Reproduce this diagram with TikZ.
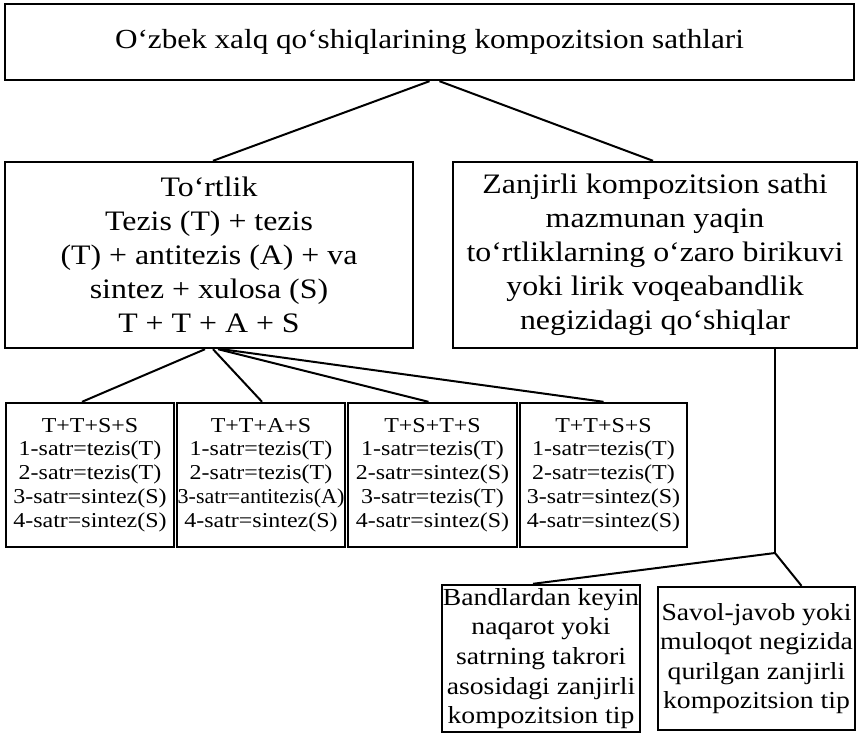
\documentclass[tikz,border=0pt]{standalone}
\usepackage{fontspec}
\setmainfont{Liberation Serif}[FakeStretch=1.13]
\usepackage{graphicx}
\begin{document}
\begin{tikzpicture}[x=1pt,y=-1pt,
  box/.style={draw, line width=2.4pt, inner sep=0pt, align=center, anchor=center},
  link/.style={line width=2pt},
  titletxt/.style={font=\fontsize{27.6}{32}\selectfont},
  bigtxt/.style={font=\fontsize{28.2}{34}\selectfont},
  smalltxt/.style={font=\fontsize{21.2}{23.8}\selectfont},
  midtxt/.style={font=\fontsize{24.5}{29.6}\selectfont}]
\useasboundingbox (0,0) rectangle (861,734);
\fill[white] (0,0) rectangle (861,734);

\node[box, titletxt, minimum width=849pt, minimum height=76pt] (top) at (429.5,42)
  {O‘zbek xalq qo‘shiqlarining kompozitsion sathlari};

\node[box, bigtxt, minimum width=408pt, minimum height=186pt] (tortlik) at (209,255)
  {To‘rtlik\\Tezis (T) + tezis\\(T) + antitezis (A) + va\\sintez + xulosa (S)\\T + T + A + S};

\node[box, bigtxt, minimum width=404pt, minimum height=186pt] (zanjir) at (655,255)
  {Zanjirli kompozitsion sathi\\mazmunan yaqin\\to‘rtliklarning o‘zaro birikuvi\\yoki lirik voqeabandlik\\negizidagi qo‘shiqlar};

\node[box, smalltxt, minimum width=168pt, minimum height=144pt] (s1) at (90,475)
  {T+T+S+S\\1-satr=tezis(T)\\2-satr=tezis(T)\\3-satr=sintez(S)\\4-satr=sintez(S)};
\node[box, smalltxt, minimum width=168pt, minimum height=144pt] (s2) at (261,475)
  {T+T+A+S\\1-satr=tezis(T)\\2-satr=tezis(T)\\\scalebox{0.92}[1]{3-satr=antitezis(A)}\\4-satr=sintez(S)};
\node[box, smalltxt, minimum width=169pt, minimum height=144pt] (s3) at (432.5,475)
  {T+S+T+S\\1-satr=tezis(T)\\2-satr=sintez(S)\\3-satr=tezis(T)\\4-satr=sintez(S)};
\node[box, smalltxt, minimum width=167pt, minimum height=144pt] (s4) at (603.5,475)
  {T+T+S+S\\1-satr=tezis(T)\\2-satr=tezis(T)\\3-satr=sintez(S)\\4-satr=sintez(S)};

\node[box, midtxt, minimum width=198pt, minimum height=147pt] (b1) at (541,658.5)
  {Bandlardan keyin\\naqarot yoki\\satrning takrori\\asosidagi zanjirli\\kompozitsion tip};
\node[box, midtxt, minimum width=197pt, minimum height=143pt] (b2) at (756.5,658.5)
  {Savol-javob yoki\\muloqot negizida\\qurilgan zanjirli\\kompozitsion tip};

\coordinate (j) at (775,553);

\draw[link] (top.south) -- ([xshift=4pt]tortlik.north);
\draw[link] ([xshift=10pt]top.south) -- ([xshift=-2pt]zanjir.north);

\draw[link] ([xshift=-4pt]tortlik.south) -- ([xshift=-8pt]s1.north);
\draw[link] ([xshift=4pt]tortlik.south) -- ([xshift=1pt]s2.north);
\draw[link] ([xshift=9pt]tortlik.south) -- ([xshift=-4pt]s3.north);
\draw[link] ([xshift=13pt]tortlik.south) -- (s4.north);

\draw[link] ([xshift=120pt]zanjir.south) -- (j);
\draw[link] (j) -- ([xshift=-8pt]b1.north);
\draw[link] (j) -- ([xshift=45pt]b2.north);
\end{tikzpicture}
\end{document}
